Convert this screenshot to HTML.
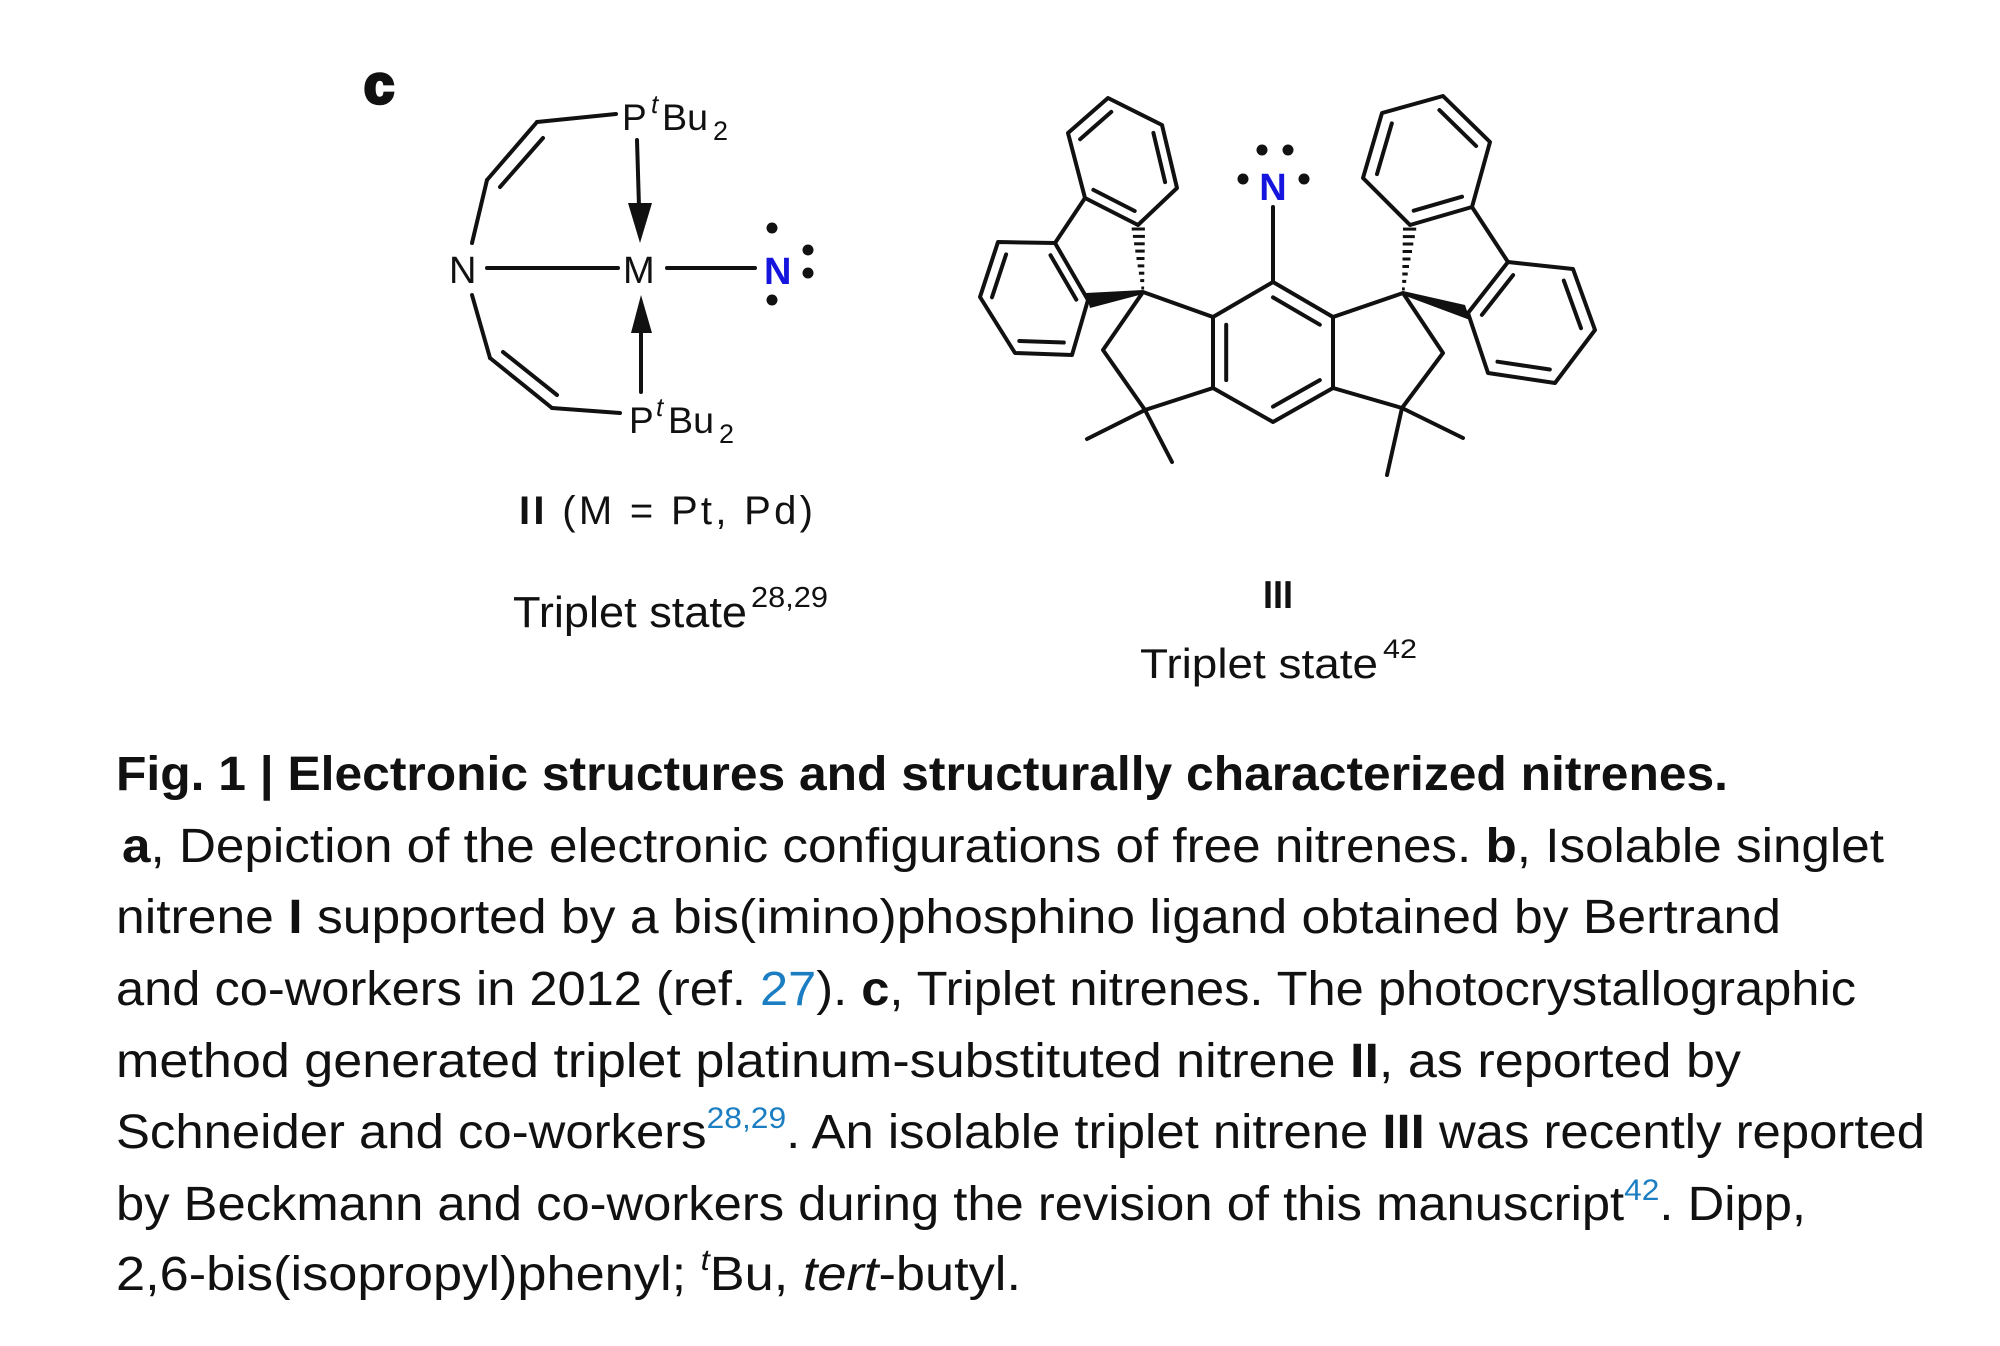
<!DOCTYPE html>
<html><head><meta charset="utf-8"><style>
html,body{margin:0;padding:0;background:#fff;}
svg{display:block;}
</style></head><body>
<svg width="2000" height="1346" viewBox="0 0 2000 1346" xmlns="http://www.w3.org/2000/svg">
<rect width="2000" height="1346" fill="#fff"/>
<g font-family="'Liberation Sans', Arial, sans-serif" fill="#111">
<text x="364" y="103" font-size="54" font-weight="bold" stroke="#111" stroke-width="3.5">c</text>

<!-- Structure II -->
<g stroke="#111" stroke-width="4" fill="none" stroke-linecap="round">
<line x1="537" y1="122" x2="616" y2="114"/>
<line x1="537" y1="122" x2="487" y2="180"/>
<line x1="543" y1="138" x2="500" y2="187"/>
<line x1="487" y1="180" x2="472" y2="243"/>
<line x1="487" y1="268" x2="618" y2="268"/>
<line x1="667" y1="268" x2="755" y2="268"/>
<line x1="472" y1="295" x2="490" y2="358"/>
<line x1="490" y1="358" x2="552" y2="408"/>
<line x1="503" y1="352" x2="557" y2="395"/>
<line x1="552" y1="408" x2="620" y2="413"/>
<line x1="637" y1="140" x2="639" y2="207"/>
<line x1="641" y1="330" x2="641" y2="392"/>
</g>
<polygon points="628,203 652,203 640,243" fill="#111"/>
<polygon points="631,333 652,333 641,295" fill="#111"/>
<text x="449" y="283" font-size="38">N</text>
<text x="623" y="283" font-size="38">M</text>
<text x="764" y="284" font-size="38" font-weight="bold" fill="#1515dd">N</text>
<circle cx="772" cy="228" r="5.5" fill="#111"/>
<circle cx="772" cy="300" r="5.5" fill="#111"/>
<circle cx="808" cy="250" r="5.5" fill="#111"/>
<circle cx="808" cy="273" r="5.5" fill="#111"/>
<text x="622" y="130" font-size="37">P</text>
<text x="651" y="113" font-size="26" font-style="italic">t</text>
<text x="662" y="130" font-size="37" textLength="46" lengthAdjust="spacingAndGlyphs">Bu</text>
<text x="713" y="140" font-size="27">2</text>
<text x="629" y="433" font-size="37">P</text>
<text x="656" y="416" font-size="26" font-style="italic">t</text>
<text x="668" y="433" font-size="37" textLength="46" lengthAdjust="spacingAndGlyphs">Bu</text>
<text x="719" y="443" font-size="27">2</text>
<text x="519" y="524" font-size="40" textLength="294" lengthAdjust="spacing"><tspan font-weight="bold">II</tspan> (M = Pt, Pd)</text>
<text x="513" y="627" font-size="44" textLength="234" lengthAdjust="spacingAndGlyphs">Triplet state</text>
<text x="751" y="607" font-size="29" textLength="77" lengthAdjust="spacingAndGlyphs">28,29</text>

<!-- Structure III -->
<g stroke="#111" stroke-width="4" fill="none" stroke-linecap="round" stroke-linejoin="round">
<polygon points="1273,282 1333,317 1333,388 1273,422 1213,388 1213,317"/>
<line x1="1273" y1="207" x2="1273" y2="282"/>
<line x1="1273" y1="297.4" x2="1319.8" y2="324.7"/>
<line x1="1319.8" y1="380.1" x2="1273" y2="406.6"/>
<line x1="1226.2" y1="324.7" x2="1226.2" y2="380.1"/>
<polyline points="1213,317 1143,292 1103,350 1145,410 1213,388"/>
<line x1="1145" y1="410" x2="1087" y2="439"/>
<line x1="1145" y1="410" x2="1172" y2="462"/>
<polygon points="1108,98 1162,125 1177,188 1138,225 1085,198 1068,133"/>
<line x1="1111.3" y1="111.9" x2="1080.1" y2="139.2"/>
<line x1="1153.4" y1="132.9" x2="1165.1" y2="182.1"/>
<line x1="1134.7" y1="211" x2="1093.4" y2="189.9"/>
<line x1="1085" y1="198" x2="1055" y2="243"/>
<polygon points="1055,243 998,242 980,297 1015,353 1072,355 1088,300"/>
<line x1="1050.5" y1="255.2" x2="1076.3" y2="299.6"/>
<line x1="1006.1" y1="254.4" x2="992" y2="297.3"/>
<line x1="1019.3" y1="341" x2="1063.8" y2="342.5"/>
<polyline points="1333,317 1403,293 1443,353 1402,408 1333,388"/>
<line x1="1402" y1="408" x2="1463" y2="438"/>
<line x1="1402" y1="408" x2="1387" y2="475"/>
<polygon points="1410,225 1472,207 1490,142 1443,96 1382,113 1363,178"/>
<line x1="1413.7" y1="210.7" x2="1462" y2="196.7"/>
<line x1="1439.4" y1="110.1" x2="1476.1" y2="146"/>
<line x1="1391.8" y1="123.4" x2="1377" y2="174.1"/>
<line x1="1472" y1="207" x2="1508" y2="262"/>
<polygon points="1508,262 1573,269 1595,330 1555,383 1488,373 1468,313"/>
<line x1="1513.1" y1="275.1" x2="1481.9" y2="314.9"/>
<line x1="1563.8" y1="280.6" x2="1581" y2="328.2"/>
<line x1="1549.8" y1="369.5" x2="1497.5" y2="361.7"/>
</g>
<polygon points="1143,290 1143,294 1090,308 1086,293" fill="#111"/>
<polygon points="1403,291 1403,295 1470,320 1465,305" fill="#111"/>
<g stroke="#111" stroke-width="3">
<line x1="1141.3" y1="288" x2="1144.1" y2="288"/>
<line x1="1140.2" y1="280.6" x2="1144.2" y2="280.6"/>
<line x1="1138.9" y1="273.2" x2="1144.3" y2="273.2"/>
<line x1="1137.7" y1="265.9" x2="1144.3" y2="265.9"/>
<line x1="1136.5" y1="258.5" x2="1144.5" y2="258.5"/>
<line x1="1135.3" y1="251.1" x2="1144.7" y2="251.1"/>
<line x1="1134.1" y1="243.8" x2="1144.7" y2="243.8"/>
<line x1="1132.9" y1="236.4" x2="1144.9" y2="236.4"/>
<line x1="1131.7" y1="229" x2="1144.9" y2="229"/>
<line x1="1402" y1="288.9" x2="1404.8" y2="288.9"/>
<line x1="1402.2" y1="281.4" x2="1406.2" y2="281.4"/>
<line x1="1402.3" y1="274" x2="1407.7" y2="274"/>
<line x1="1402.4" y1="266.5" x2="1409" y2="266.5"/>
<line x1="1402.5" y1="259" x2="1410.5" y2="259"/>
<line x1="1402.6" y1="251.5" x2="1412" y2="251.5"/>
<line x1="1402.7" y1="244" x2="1413.3" y2="244"/>
<line x1="1402.8" y1="236.6" x2="1414.8" y2="236.6"/>
<line x1="1403" y1="229.1" x2="1416.2" y2="229.1"/>
</g>
<text x="1273" y="200" font-size="38" font-weight="bold" fill="#1515dd" text-anchor="middle">N</text>
<circle cx="1262" cy="150" r="5.5" fill="#111"/>
<circle cx="1288" cy="150" r="5.5" fill="#111"/>
<circle cx="1243" cy="179" r="5.5" fill="#111"/>
<circle cx="1304" cy="179" r="5.5" fill="#111"/>
<text x="1263" y="608" font-size="39" font-weight="bold" textLength="30" lengthAdjust="spacingAndGlyphs">III</text>
<text x="1140" y="678" font-size="42" textLength="238" lengthAdjust="spacingAndGlyphs">Triplet state</text>
<text x="1383" y="658" font-size="27" textLength="34" lengthAdjust="spacingAndGlyphs">42</text>
</g>

<!-- Caption -->
<g font-family="'Liberation Sans', Arial, sans-serif" font-size="48" fill="#111">
<text x="116" y="790" font-weight="bold" textLength="1612" lengthAdjust="spacingAndGlyphs">Fig. 1 | Electronic structures and structurally characterized nitrenes.</text>
<text x="122" y="862" textLength="1762" lengthAdjust="spacingAndGlyphs"><tspan font-weight="bold">a</tspan>, Depiction of the electronic configurations of free nitrenes. <tspan font-weight="bold">b</tspan>, Isolable singlet</text>
<text x="116" y="933" textLength="1665" lengthAdjust="spacingAndGlyphs">nitrene <tspan font-weight="bold">I</tspan> supported by a bis(imino)phosphino ligand obtained by Bertrand</text>
<text x="116" y="1005" textLength="1740" lengthAdjust="spacingAndGlyphs">and co-workers in 2012 (ref. <tspan fill="#1b7ec2">27</tspan>). <tspan font-weight="bold">c</tspan>, Triplet nitrenes. The photocrystallographic</text>
<text x="116" y="1077" textLength="1625" lengthAdjust="spacingAndGlyphs">method generated triplet platinum-substituted nitrene <tspan font-weight="bold">II</tspan>, as reported by</text>
<text x="116" y="1148" textLength="1809" lengthAdjust="spacingAndGlyphs">Schneider and co-workers<tspan fill="#1b7ec2" font-size="30" dy="-20">28,29</tspan><tspan dy="20">. An isolable triplet nitrene </tspan><tspan font-weight="bold">III</tspan> was recently reported</text>
<text x="116" y="1220" textLength="1690" lengthAdjust="spacingAndGlyphs">by Beckmann and co-workers during the revision of this manuscript<tspan fill="#1b7ec2" font-size="30" dy="-20">42</tspan><tspan dy="20">. Dipp,</tspan></text>
<text x="116" y="1290" textLength="905" lengthAdjust="spacingAndGlyphs">2,6-bis(isopropyl)phenyl; <tspan font-style="italic" font-size="30" dy="-20">t</tspan><tspan dy="20">Bu, </tspan><tspan font-style="italic">tert</tspan>-butyl.</text>
</g>
</svg>
</body></html>
